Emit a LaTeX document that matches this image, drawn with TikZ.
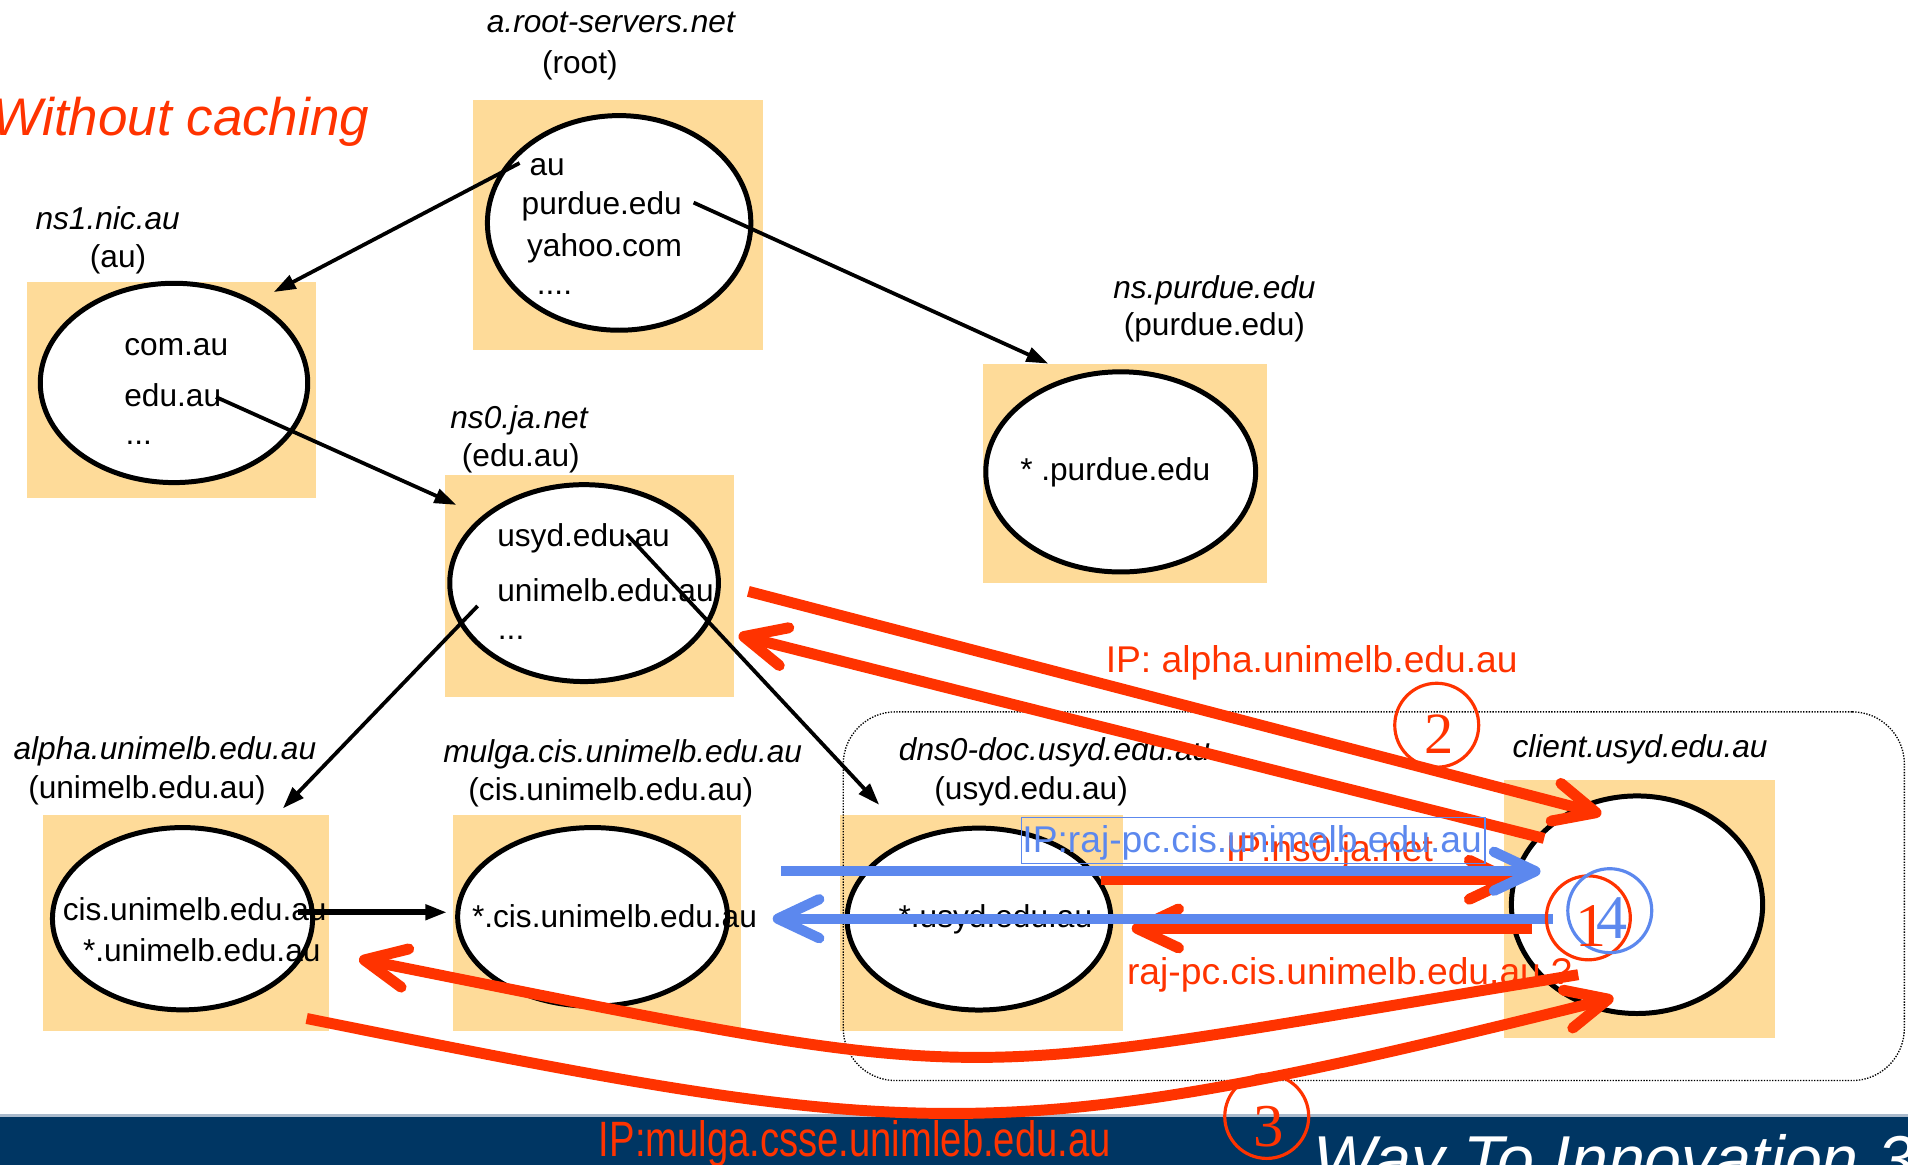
\documentclass[tikz,border=0pt]{standalone}
\usepackage{fontspec}
\setmainfont{Liberation Sans}
\newfontfamily\serifnum{Liberation Serif}
\usetikzlibrary{shapes.geometric,arrows.meta}
\definecolor{boxfill}{RGB}{254,219,153}
\definecolor{dnsred}{RGB}{255,51,0}
\definecolor{dnsblue}{RGB}{92,136,238}
\definecolor{barblue}{RGB}{0,54,99}
\definecolor{barline}{RGB}{170,186,204}
\begin{document}
\begin{tikzpicture}[x=1pt,y=-1pt,
 zone/.style={rectangle, fill=boxfill, inner sep=0},
 srv/.style={ellipse, draw=black, line width=4.1pt, fill=white, inner sep=0},
 txt/.style={inner sep=0, font=\fontsize{26}{31}\selectfont, text height=18.2pt, text depth=5.2pt},
 ital/.style={txt, font=\fontsize{26}{31}\selectfont\itshape},
 rtxt/.style={inner sep=0, font=\fontsize{30.6}{36}\selectfont, text=dnsred, text height=21.4pt, text depth=6.1pt},
 btxt/.style={rtxt, text=dnsblue},
 blk/.style={draw=black, line width=3.1pt, -{Triangle[length=18pt,width=12pt]}},
 redarr/.style={draw=dnsred, line width=9pt, -{Straight Barb[length=34pt,width=32pt,round]}},
 bluarr/.style={draw=dnsblue, line width=8.5pt, -{Straight Barb[length=34pt,width=32pt,round]}},
 ring/.style={circle, draw=#1, line width=2.6pt, minimum size=69pt, inner sep=0},
 digit/.style={inner sep=0, anchor=base, text=#1},
 dotbox/.style={rectangle, draw=black, line width=1.1pt, dash pattern=on 1.1pt off 1.2pt, rounded corners=43pt, inner sep=0},
]
\useasboundingbox (0,0) rectangle (1568,957);
\clip (0,0) rectangle (1568,957);

% bottom bar
\node[rectangle, fill=barblue, inner sep=0, minimum width=1568pt, minimum height=50pt] (bar) at (784,942) {};
\draw[barline, line width=2pt] (bar.north west) -- (bar.north east);

% zones
\node[zone, minimum width=238pt, minimum height=206pt] (rootZ) at (508,185) {};
\node[zone, minimum width=238pt, minimum height=177pt] (ns1Z) at (141,320.5) {};
\node[zone, minimum width=237pt, minimum height=183pt] (ns0Z) at (484.5,481.5) {};
\node[zone, minimum width=233pt, minimum height=180pt] (purZ) at (924.5,389) {};
\node[zone, minimum width=235pt, minimum height=177pt] (alpZ) at (152.5,758.5) {};
\node[zone, minimum width=237pt, minimum height=177pt] (mulZ) at (490.5,758.5) {};
\node[zone, minimum width=233pt, minimum height=177pt] (dnsZ) at (806.5,758.5) {};
\node[zone, minimum width=223pt, minimum height=212pt] (cliZ) at (1347.5,747) {};

% dotted local area
\node[dotbox, minimum width=872pt, minimum height=303pt] (local) at (1129,736.5) {};

% servers
\node[srv, minimum width=216.5pt, minimum height=176.4pt] (rootE) at (508.8,183.2) {};
\node[srv, minimum width=219.8pt, minimum height=163.8pt] (ns1E) at (143,314.7) {};
\node[srv, minimum width=220.8pt, minimum height=161.8pt] (ns0E) at (480,479.2) {};
\node[srv, minimum width=221.8pt, minimum height=164.5pt] (purE) at (921,387.8) {};
\node[srv, minimum width=213.8pt, minimum height=149.8pt] (alpE) at (150,755) {};
\node[srv, minimum width=221.8pt, minimum height=146.8pt] (mulE) at (487,753.5) {};
\node[srv, minimum width=216.8pt, minimum height=149.5pt] (dnsE) at (804.5,755.3) {};
\node[srv, minimum width=206.5pt, minimum height=178.8pt] (cliE) at (1345.3,743.5) {};

% server contents
\node[txt, anchor=west] (tAu) at (435,137.5) {au};
\node[txt, anchor=west] (tPurdue) at (428.5,169.5) {purdue.edu};
\node[txt, anchor=west] (tYahoo) at (433,204) {yahoo.com};
\node[txt, anchor=west] (tDots1) at (441,235.5) {....};
\node[txt, anchor=west] (tComau) at (102,285.7) {com.au};
\node[txt, anchor=west] (tEduau) at (102,327.4) {edu.au};
\node[txt, anchor=west] (tDots2) at (103,358.5) {...};
\node[txt, anchor=west] (tUsyd) at (408.5,443) {usyd.edu.au};
\node[txt, anchor=west] (tUnimelb) at (408.5,487.5) {unimelb.edu.au};
\node[txt, anchor=west] (tDots3) at (409,519) {...};
\node[txt] (tPur) at (916.5,388) {* .purdue.edu};
\node[txt] (tCis) at (160,750) {cis.unimelb.edu.au};
\node[txt] (tStarUni) at (165.8,784) {*.unimelb.edu.au};
\node[txt] (tStarCis) at (505,756) {*.cis.unimelb.edu.au};
\node[txt] (tStarUsyd) at (818,756) {*.usyd.edu.au};

% server labels
\node[ital] (lRoot) at (502,19.9) {a.root-servers.net};
\node[txt] (lRoot2) at (476.5,53.5) {(root)};
\node[ital] (lNs1) at (88.5,182.5) {ns1.nic.au};
\node[txt] (lNs12) at (97,213.5) {(au)};
\node[ital] (lNs0) at (426.5,346) {ns0.ja.net};
\node[txt] (lNs02) at (428,376.5) {(edu.au)};
\node[ital] (lPur) at (998,239) {ns.purdue.edu};
\node[txt] (lPur2) at (998,269.6) {(purdue.edu)};
\node[ital] (lAlp) at (135.5,618) {alpha.unimelb.edu.au};
\node[txt] (lAlp2) at (120.8,649.7) {(unimelb.edu.au)};
\node[ital] (lMul) at (511.7,620.4) {mulga.cis.unimelb.edu.au};
\node[txt] (lMul2) at (502,651) {(cis.unimelb.edu.au)};
\node[ital] (lDns) at (866.7,618.5) {dns0-doc.usyd.edu.au};
\node[txt] (lDns2) at (847.4,650.6) {(usyd.edu.au)};
\node[ital] (lCli) at (1347.8,616.4) {client.usyd.edu.au};

% title and footer texts
\node[inner sep=0, anchor=base west, font=\fontsize{43.5}{52}\selectfont\itshape, text=dnsred] (title) at (-6,111) {Without caching};
\node[inner sep=0, anchor=base west, font=\fontsize{54.5}{64}\selectfont\itshape, text=white] (motto) at (1079,972) {Way To Innovation 3};

% delegation arrows
\coordinate (a1s) at (427,134);   \coordinate (a1e) at (225,240);
\coordinate (a2s) at (570,166.5); \coordinate (a2e) at (861.5,298.8);
\coordinate (a3s) at (177.5,326.3); \coordinate (a3e) at (375,414.9);
\coordinate (a4s) at (515,439);   \coordinate (a4e) at (722.5,661.3);
\coordinate (a5s) at (392.5,498); \coordinate (a5e) at (232.5,664.3);
\coordinate (a6s) at (245,749.7); \coordinate (a6e) at (367.5,749.7);
\draw[blk] (a1s) -- (a1e);
\draw[blk] (a2s) -- (a2e);
\draw[blk] (a3s) -- (a3e);
\draw[blk] (a4s) -- (a4e);
\draw[blk] (a5s) -- (a5e);
\draw[blk, line width=4.6pt] (a6s) -- (a6e);

% query / reply arrows
\coordinate (r1s) at (615,486);   \coordinate (r1e) at (1316,669);
\coordinate (r2s) at (1269,689);  \coordinate (r2e) at (607,522);
\coordinate (r3s) at (905,723);   \coordinate (r3e) at (1246,723);
\coordinate (r4s) at (1259,763);  \coordinate (r4e) at (930,763);
\coordinate (b1s) at (642,716);   \coordinate (b1e) at (1266,716);
\coordinate (b2s) at (1276,755);  \coordinate (b2e) at (635,755);
\coordinate (c1s) at (1297,801);  \coordinate (c1e) at (295,788);
\coordinate (c2s) at (252,837);   \coordinate (c2e) at (1326,820);

\draw[redarr] (r1s) -- (r1e);
\draw[redarr] (r2s) -- (r2e);
\draw[redarr] (r3s) -- (r3e);
\draw[redarr] (r4s) -- (r4e);
\draw[redarr] (c1s) .. controls (756,889) and (846,898) .. (c1e);
\draw[redarr] (c2s) .. controls (764,940) and (816,947) .. (c2e);

\node[rtxt] (tIPalpha) at (1078,545) {IP: alpha.unimelb.edu.au};
\node[rtxt] (tIPns0) at (1092.5,700) {IP:ns0.ja.net};
\node[rtxt, anchor=west] (tRajq) at (926,801) {raj-pc.cis.unimelb.edu.au ?};
\node[inner sep=0, anchor=base west, font=\fontsize{31.4}{36}\selectfont, text=dnsred] (tIPmulga) at (492,950) {\scalebox{1}[1.3]{IP:mulga.csse.unimleb.edu.au}};

\draw[bluarr] (b1s) -- (b1e);
\draw[bluarr] (b2s) -- (b2e);
\node[btxt] (tIPraj) at (1029,693) {IP:raj-pc.cis.unimelb.edu.au};
\node[rectangle, draw=dnsblue, line width=1.2pt, inner sep=0, minimum width=381pt, minimum height=38pt] (rajbox) at (1030,690.6) {};

% step numbers
\node[ring=dnsred] (ring2) at (1180.7,596) {};
\node[digit=dnsred, font=\fontsize{48}{56}\serifnum] (d2) at (1182.8,619.6) {2};
\node[ring=dnsred] (ring1) at (1305.3,754.3) {};
\node[ring=dnsblue] (ring4) at (1322.9,748.4) {};
\node[digit=dnsred, font=\fontsize{51}{60}\serifnum] (d1) at (1307.3,777.5) {1};
\node[digit=dnsblue, font=\fontsize{51}{60}\serifnum] (d4) at (1324.5,771.2) {4};
\node[ring=dnsred] (ring3) at (1041,917.5) {};
\node[digit=dnsred, font=\fontsize{50}{58}\serifnum] (d3) at (1043,942) {3};
\end{tikzpicture}
\end{document}
